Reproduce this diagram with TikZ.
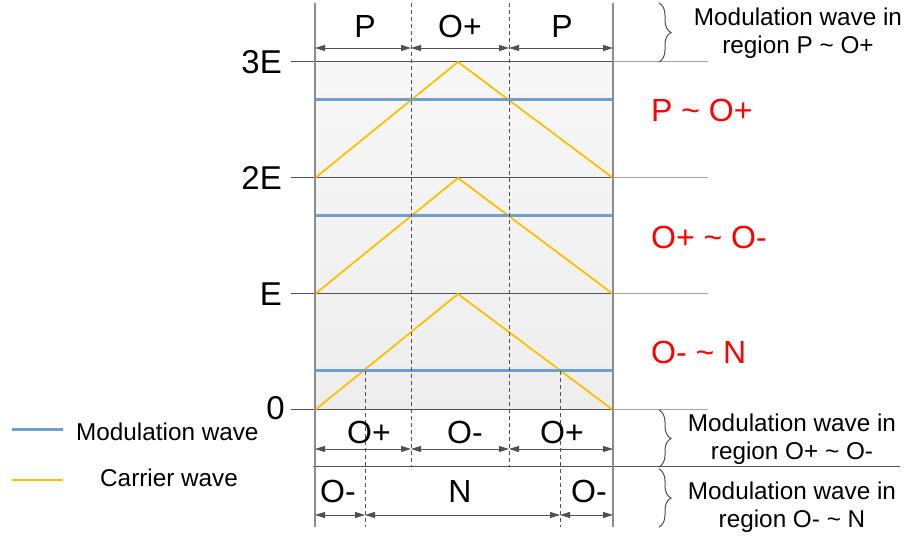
\documentclass[tikz,border=0pt]{standalone}
\usepackage{fontspec}
\setmainfont{Liberation Sans}
\usetikzlibrary{arrows.meta,decorations.pathreplacing}
\definecolor{modblue}{RGB}{112,158,206}
\definecolor{carrier}{RGB}{255,192,0}
\definecolor{framegray}{RGB}{140,140,140}
\definecolor{levelgray}{RGB}{80,80,80}
\definecolor{extgray}{RGB}{165,165,165}
\definecolor{lblred}{RGB}{255,0,0}
\begin{document}
\begin{tikzpicture}[x=1pt,y=-1pt,
  frame/.style={draw=framegray,line width=1.3pt},
  level/.style={draw=levelgray,line width=1pt},
  ext/.style={draw=extgray,line width=1pt},
  dashline/.style={draw=levelgray,line width=0.8pt,dash pattern=on 4pt off 3pt},
  carrierline/.style={draw=carrier,line width=1.8pt},
  modline/.style={draw=modblue,line width=3pt},
  dimline/.style={draw=levelgray,line width=0.9pt,{Triangle[length=10pt,width=6pt]}-{Triangle[length=10pt,width=6pt]}},
  seglabel/.style={font=\fontsize{32}{36}\selectfont,inner sep=0pt},
  axislabel/.style={font=\fontsize{33}{36}\selectfont,inner sep=0pt,anchor=east},
  regionlabel/.style={font=\fontsize{32}{36}\selectfont,text=lblred,inner sep=0pt,anchor=west},
  note/.style={font=\fontsize{24.3}{27.5}\selectfont,align=center,inner sep=0pt},
  legendtext/.style={font=\fontsize{24.3}{27.5}\selectfont,inner sep=0pt,anchor=west},
  bracedeco/.style={draw=levelgray,line width=1pt,decorate,decoration={brace,amplitude=12pt}}
]
\useasboundingbox (0,0) rectangle (906,537);
% background shading of plot area
\shade[top color=white!97!black,bottom color=white!93!black] (315,62) rectangle (613,410);

% level coordinates
\foreach \n/\y in {3/62,2/178,1/294,0/410}{
  \coordinate (L\n) at (291,\y);
  \coordinate (A\n) at (315,\y);
  \coordinate (B\n) at (613,\y);
  \coordinate (R\n) at (708,\y);
}
% level lines
\foreach \n in {3,2,1,0}{
  \draw[level] (L\n) -- (B\n);
  \draw[ext] (B\n) -- (R\n);
}
% separator line below
\coordinate (S0) at (313,467);
\coordinate (S1) at (900,467);
\draw[level] (S0) -- (S1);

% carrier wave
\coordinate (P3) at (458,62);
\coordinate (P2) at (458,178);
\coordinate (P1) at (458,294);
\draw[carrierline] (A2) -- (P3) -- (B2);
\draw[carrierline] (A1) -- (P2) -- (B1);
\draw[carrierline] (A0) -- (P1) -- (B0);

% modulation waves
\coordinate (M3a) at (315,100); \coordinate (M3b) at (613,100);
\coordinate (M2a) at (315,216); \coordinate (M2b) at (613,216);
\coordinate (M1a) at (315,371); \coordinate (M1b) at (613,371);
\draw[modline] (M3a) -- (M3b);
\draw[modline] (M2a) -- (M2b);
\draw[modline] (M1a) -- (M1b);

% dashed verticals
\coordinate (D1t) at (411,3); \coordinate (D1b) at (411,467);
\coordinate (D2t) at (509,3); \coordinate (D2b) at (509,467);
\coordinate (D3t) at (365,371); \coordinate (D3b) at (365,527);
\coordinate (D4t) at (560,371); \coordinate (D4b) at (560,527);
\draw[dashline] (D1t) -- (D1b);
\draw[dashline] (D2t) -- (D2b);
\draw[dashline] (D3t) -- (D3b);
\draw[dashline] (D4t) -- (D4b);

% frame verticals
\coordinate (F1t) at (315,3); \coordinate (F1b) at (315,527);
\coordinate (F2t) at (613,3); \coordinate (F2b) at (613,527);
\draw[frame] (F1t) -- (F1b);
\draw[frame] (F2t) -- (F2b);

% dimension arrows top
\coordinate (T0) at (315,48); \coordinate (T1) at (411,48);
\coordinate (T2) at (509,48); \coordinate (T3) at (613,48);
\draw[dimline] (T0) -- (T1);
\draw[dimline] (T1) -- (T2);
\draw[dimline] (T2) -- (T3);
% dimension arrows middle
\coordinate (U0) at (315,449); \coordinate (U1) at (411,449);
\coordinate (U2) at (509,449); \coordinate (U3) at (613,449);
\draw[dimline] (U0) -- (U1);
\draw[dimline] (U1) -- (U2);
\draw[dimline] (U2) -- (U3);
% dimension arrows bottom
\coordinate (V0) at (315,515); \coordinate (V1) at (365,515);
\coordinate (V2) at (560,515); \coordinate (V3) at (613,515);
\draw[dimline] (V0) -- (V1);
\draw[dimline] (V1) -- (V2);
\draw[dimline] (V2) -- (V3);

% segment labels
\node[seglabel] (tp1) at (365,26) {P};
\node[seglabel] (to1) at (460,26) {O+};
\node[seglabel] (tp2) at (562,26) {P};
\node[seglabel] (mo1) at (369,432) {O+};
\node[seglabel] (mo2) at (465,432) {O-};
\node[seglabel] (mo3) at (562,432) {O+};
\node[seglabel] (bo1) at (338,491) {O-};
\node[seglabel] (bn) at (460,491) {N};
\node[seglabel] (bo2) at (589,491) {O-};

% axis labels
\node[axislabel] (ax3) at (282,62) {3E};
\node[axislabel] (ax2) at (282,178) {2E};
\node[axislabel] (ax1) at (282,294) {E};
\node[axislabel] (ax0) at (285,408) {0};

% region labels
\node[regionlabel] (rg1) at (651,110) {P \textasciitilde{} O+};
\node[regionlabel] (rg2) at (651,237) {O+ \textasciitilde{} O-};
\node[regionlabel] (rg3) at (651,352) {O- \textasciitilde{} N};

% braces
\coordinate (Br1a) at (659,3);   \coordinate (Br1b) at (659,62);
\coordinate (Br2a) at (659,410); \coordinate (Br2b) at (659,467);
\coordinate (Br3a) at (659,469); \coordinate (Br3b) at (659,527);
\draw[bracedeco] (Br1a) -- (Br1b);
\draw[bracedeco] (Br2a) -- (Br2b);
\draw[bracedeco] (Br3a) -- (Br3b);

% notes
\node[note] (n1) at (798,33) {Modulation wave in\\region P \textasciitilde{} O+};
\node[note] (n2) at (792,439) {Modulation wave in\\region O+ \textasciitilde{} O-};
\node[note] (n3) at (792,507) {Modulation wave in\\region O- \textasciitilde{} N};

% legend
\coordinate (LgB1) at (12,430); \coordinate (LgB2) at (63,430);
\coordinate (LgC1) at (12,480); \coordinate (LgC2) at (63,480);
\draw[modline] (LgB1) -- (LgB2);
\draw[carrierline] (LgC1) -- (LgC2);
\node[legendtext] (lg1) at (76,432) {Modulation wave};
\node[legendtext] (lg2) at (100,478) {Carrier wave};
\end{tikzpicture}
\end{document}
